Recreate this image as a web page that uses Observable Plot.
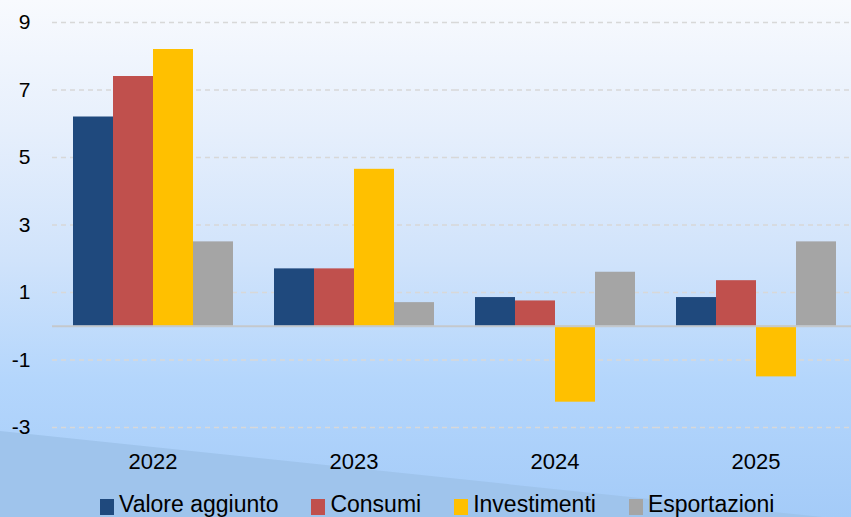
<!DOCTYPE html>
<html>
<head>
<meta charset="utf-8">
<script src="https://cdn.jsdelivr.net/npm/d3@7"></script>
<script src="https://cdn.jsdelivr.net/npm/@observablehq/plot@0.6"></script>
<style>
  html, body { margin: 0; padding: 0; }
  body {
    width: 851px; height: 517px; overflow: hidden; position: relative;
    background: linear-gradient(to bottom, #f8fafe 0px, #e6effc 130px, #d0e3fb 260px, #b4d6fc 380px, #a4cbf8 517px);
    font-family: "Liberation Sans", Arial, sans-serif;
  }
  #band {
    position: absolute; left: 0; top: 0; width: 851px; height: 517px;
    background: #9fc4ec;
    clip-path: polygon(0px 431px, 851px 520px, 851px 517px, 0px 517px);
  }
  #chart { position: absolute; left: 0; top: 0; }
  #legend {
    position: absolute; left: 100px; top: 493px;
    display: flex; align-items: center; font-size: 23px; line-height: 23px; color: #000;
  }
  .item { display: flex; align-items: center; margin-right: 33px; }
  .sw { width: 14px; height: 16px; margin-right: 5px; margin-top: 4px; }
</style>
</head>
<body>
<div id="band"></div>
<div id="chart"></div>
<div id="legend"></div>
<script>
const years = ["2022", "2023", "2024", "2025"];
const series = ["Valore aggiunto", "Consumi", "Investimenti", "Esportazioni"];
const colors = ["#1f497d", "#c0504d", "#ffc000", "#a5a5a5"];
const valoreAggiunto = [6.2, 1.7, 0.85, 0.85];
const consumi = [7.4, 1.7, 0.75, 1.35];
const investimenti = [8.2, 4.65, -2.25, -1.5];
const esportazioni = [2.5, 0.7, 1.6, 2.5];
const yTicks = [-3, -1, 1, 3, 5, 7, 9];

const seriesValues = [valoreAggiunto, consumi, investimenti, esportazioni];
const data = [];
years.forEach((y, i) => series.forEach((s, j) => data.push({year: y, series: s, value: seriesValues[j][i]})));

const chart = Plot.plot({
  width: 851,
  height: 480,
  marginTop: 22,
  marginBottom: 53,
  marginLeft: 50,
  marginRight: -6,
  style: {background: "transparent", fontFamily: "Liberation Sans, Arial, sans-serif", color: "#000"},
  fx: {domain: years, padding: 0, label: null},
  x: {domain: series, paddingInner: 0, paddingOuter: 0.5, axis: null},
  y: {domain: [-3, 9], label: null},
  color: {domain: series, range: colors},
  marks: [
    Plot.ruleY(yTicks, {stroke: "#d8d8d8", strokeWidth: 1.3, strokeDasharray: "5,4"}),
    Plot.barY(data, {fx: "year", x: "series", y: "value", fill: "series", inset: 0}),
    Plot.ruleY([0], {stroke: "#c4c8cc", strokeWidth: 2}),
    Plot.axisY(yTicks, {anchor: "left", tickSize: 0, tickPadding: 22, fontSize: 21, fill: "#000", tickFormat: d => String(d), label: null}),
    Plot.axisFx({anchor: "bottom", tickSize: 0, tickPadding: 26, fontSize: 22, fill: "#000", label: null})
  ]
});
document.getElementById("chart").appendChild(chart);

const legend = document.getElementById("legend");
series.forEach((s, j) => {
  const it = document.createElement("div");
  it.className = "item";
  const sw = document.createElement("div");
  sw.className = "sw";
  sw.style.background = colors[j];
  const t = document.createElement("span");
  t.textContent = s;
  it.appendChild(sw);
  it.appendChild(t);
  legend.appendChild(it);
});
</script>
</body>
</html>
